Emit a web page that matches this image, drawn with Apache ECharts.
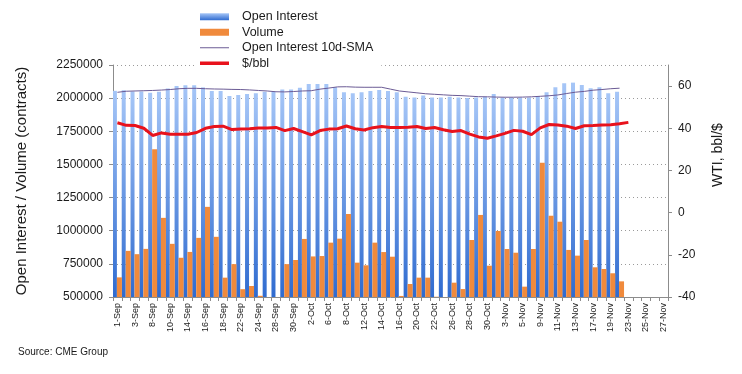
<!DOCTYPE html>
<html><head><meta charset="utf-8">
<script src="https://cdn.jsdelivr.net/npm/echarts@6/dist/echarts.min.js"></script>
<style>html,body{margin:0;padding:0;background:#fff}#c{width:742px;height:374px}</style>
</head><body><div id="c"></div>
<script>
const categories = ['1-Sep','2-Sep','3-Sep','4-Sep','8-Sep','9-Sep','10-Sep','11-Sep','14-Sep','15-Sep','16-Sep','17-Sep','18-Sep','21-Sep','22-Sep','23-Sep','24-Sep','25-Sep','28-Sep','29-Sep','30-Sep',
 '1-Oct','2-Oct','5-Oct','6-Oct','7-Oct','8-Oct','9-Oct','12-Oct','13-Oct','14-Oct','15-Oct','16-Oct','19-Oct','20-Oct','21-Oct','22-Oct','23-Oct','26-Oct','27-Oct','28-Oct','29-Oct','30-Oct',
 '2-Nov','3-Nov','4-Nov','5-Nov','6-Nov','9-Nov','10-Nov','11-Nov','12-Nov','13-Nov','16-Nov','17-Nov','18-Nov','19-Nov','20-Nov','23-Nov','24-Nov','25-Nov','26-Nov','27-Nov'];

const openInterest = [2055000,2060000,2050000,2050000,2040000,2048000,2073000,2091000,2098000,2098000,2081000,2053000,2053000,2016000,2023000,2031000,2036000,2048000,2048000,2066000,2066000,
 2078000,2107000,2107000,2107000,2082000,2044000,2036000,2044000,2054000,2061000,2054000,2044000,2011000,2004000,2019000,2004000,2004000,2011000,2004000,2001000,2004000,2011000,
 2031000,2004000,2004000,2004000,2004000,2016000,2044000,2082000,2112000,2117000,2099000,2074000,2082000,2036000,2049000];

const volume = [648000,848000,823000,863000,1615000,1097000,901000,796000,840000,946000,1180000,954000,646000,748000,559000,583000,509000,470000,470000,748000,779000,
 938000,806000,809000,910000,940000,1126000,759000,739000,910000,839000,804000,508000,598000,646000,646000,502000,470000,608000,560000,930000,1119000,736000,
 998000,862000,834000,578000,862000,1513000,1113000,1068000,855000,812000,930000,724000,711000,679000,618000];

const oiSma10 = [2044000,2052000,2054000,2056000,2058000,2061000,2065000,2071000,2074000,2074000,2071000,2069000,2068000,2066000,2065000,2062000,2058000,2054000,2048000,2047000,2050000,
 2054000,2056000,2068000,2076000,2085000,2086000,2083000,2082000,2082000,2082000,2068000,2054000,2047000,2040000,2033000,2029000,2025000,2021000,2019000,2015000,2011000,2010000,
 2008000,2007000,2007000,2008000,2010000,2014000,2018000,2024000,2035000,2045000,2051000,2060000,2065000,2071000,2075000];

const wti = [42.6,41.4,41.3,40.0,36.6,37.8,37.2,37.2,37.2,38.0,40.0,40.8,41.0,39.4,39.7,39.8,40.1,40.1,40.4,38.9,39.9,
 38.4,36.9,38.9,39.6,39.8,41.1,39.8,39.2,40.3,40.8,40.4,40.4,40.5,40.8,39.9,40.4,39.3,38.5,38.9,37.2,35.9,35.3,
 36.4,37.6,39.0,38.6,37.0,40.2,41.8,41.5,41.0,39.9,41.2,41.3,41.6,41.7,42.1,42.8];

const seriesNames = ['Open Interest','Volume','Open Interest 10d-SMA','$/bbl'];
const leftTitle = 'Open Interest / Volume (contracts)';
const rightTitle = 'WTI, bbl/$';
const sourceText = 'Source: CME Group';

const FONT = '"Liberation Sans", Arial, sans-serif';
const axisGray = '#8c8c8c';
const chart = echarts.init(document.getElementById('c'), null, {renderer:'canvas'});
chart.setOption({
  animation:false,
  backgroundColor:'#ffffff',
  textStyle:{fontFamily:FONT},
  grid:{left:113,right:74,top:65,bottom:77,containLabel:false},
  legend:{
    orient:'vertical', left:196, top:6, padding:[3,8,3,4], backgroundColor:'#ffffff',
    itemWidth:29, itemHeight:7, itemGap:0, symbolKeepAspect:true,
    textStyle:{fontSize:12.5,color:'#1a1a1a',lineHeight:15.5,padding:[0,0,0,8],fontFamily:FONT},
    data:[
      {name:seriesNames[0],icon:'rect'},
      {name:seriesNames[1],icon:'rect'},
      {name:seriesNames[2],icon:'path://M0,0H29V1H0Z'},
      {name:seriesNames[3],icon:'path://M0,0H29V3.5H0Z'}
    ]
  },
  xAxis:{
    type:'category', data:categories, boundaryGap:true,
    axisLine:{onZero:false,lineStyle:{color:axisGray,width:1}},
    axisTick:{show:true,interval:0,length:4,lineStyle:{color:axisGray}},
    axisLabel:{interval:1,rotate:90,fontSize:9,color:'#1a1a1a',margin:6,fontFamily:FONT},
    splitLine:{show:false}
  },
  yAxis:[{
    type:'value', min:500000, max:2250000, interval:250000,
    name:leftTitle, nameLocation:'middle', nameGap:84,
    nameTextStyle:{fontSize:15,color:'#1a1a1a',fontFamily:FONT},
    axisLine:{show:true,lineStyle:{color:axisGray}},
    axisTick:{show:true,length:4,lineStyle:{color:axisGray}},
    axisLabel:{fontSize:12,color:'#1a1a1a',margin:10,fontFamily:FONT,formatter:function(v){return String(v);}},
    splitLine:{show:true,lineStyle:{type:[1,3],color:'#9a9a9a',width:1}}
  },{
    type:'value', position:'right', min:-40, max:70, interval:20,
    name:rightTitle, nameLocation:'middle', nameGap:43,
    nameTextStyle:{fontSize:14,color:'#1a1a1a',fontFamily:FONT,padding:[0,0,0,52]},
    axisLine:{show:true,onZero:false,lineStyle:{color:axisGray}},
    axisTick:{show:true,length:4,lineStyle:{color:axisGray}},
    axisLabel:{fontSize:12,color:'#1a1a1a',margin:10,showMaxLabel:false,fontFamily:FONT},
    splitLine:{show:false}
  }],
  series:[{
    name:seriesNames[0], type:'bar', yAxisIndex:0, data:openInterest, barWidth:4, z:2,
    itemStyle:{color:{type:'linear',x:0,y:0,x2:0,y2:1,colorStops:[{offset:0,color:'#a6c6f7'},{offset:1,color:'#2f6bd0'}]}}
  },{
    name:seriesNames[1], type:'bar', yAxisIndex:0, data:volume, barWidth:5, barGap:'0%', z:3,
    itemStyle:{color:'#f08a3c'}
  },{
    name:seriesNames[2], type:'line', yAxisIndex:0, data:oiSma10, symbol:'none', showSymbol:false, z:4,
    lineStyle:{width:1,color:'#6b5b95'}, itemStyle:{color:'#6b5b95'}
  },{
    name:seriesNames[3], type:'line', yAxisIndex:1, data:wti, symbol:'none', showSymbol:false, z:5,
    lineStyle:{width:3,color:'#e8121c'}, itemStyle:{color:'#e8121c'}
  }],
  graphic:[{type:'text', left:18, top:347, style:{text:sourceText, fontSize:10, fill:'#1a1a1a', fontFamily:FONT}}]
});
</script>
</body></html>
